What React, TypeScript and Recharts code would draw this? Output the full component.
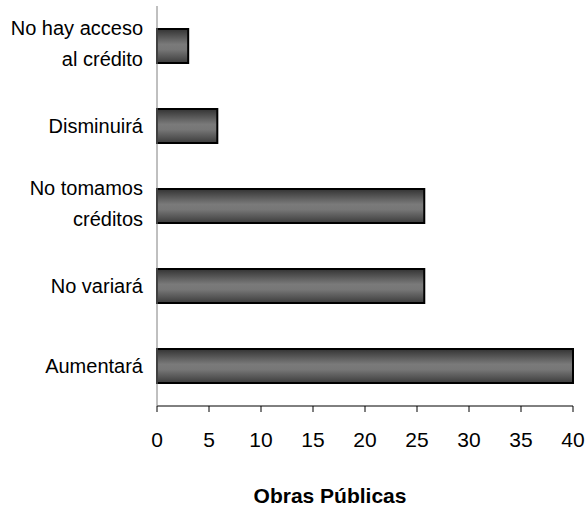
import { BarChart, Bar, XAxis, YAxis } from "recharts";

const categories = ["No hay acceso\nal crédito", "Disminuirá", "No tomamos\ncréditos", "No variará", "Aumentará"];
const values = [3, 5.8, 25.7, 25.7, 40];
const xTicks = [0, 5, 10, 15, 20, 25, 30, 35, 40];
const title = "Obras Públicas";

const FONT = "'Liberation Sans', Arial, sans-serif";

const data = categories.map((name, i) => ({ name, value: values[i] }));

function CategoryTick(props: any) {
  const { x, y, payload } = props;
  const lines = String(payload.value).split("\n");
  const gap = 31;
  // two-line labels sit a little above the bar centre
  const start = y - ((lines.length - 1) * gap) / 2 - (lines.length > 1 ? 2.5 : 0);
  return (
    <text x={x} y={start} textAnchor="end" fontFamily={FONT} fontSize={20} fill="#000">
      {lines.map((line, i) => (
        <tspan key={i} x={x} y={start + i * gap} dy="0.35em">
          {line}
        </tspan>
      ))}
    </text>
  );
}

function TitleLabel(props: any) {
  const { viewBox } = props;
  return (
    <text
      x={330}
      y={viewBox.y + 97}
      textAnchor="middle"
      fontFamily={FONT}
      fontSize={21}
      fontWeight="bold"
      fill="#000"
    >
      {title}
    </text>
  );
}

export default function App() {
  return (
    <div style={{ position: "absolute", left: 0, top: 0, background: "#fff" }}>
      <BarChart
        width={585}
        height={506}
        data={data}
        layout="vertical"
        margin={{ top: 6, right: 12, bottom: 0, left: 0 }}
      >
        <defs>
          <linearGradient id="barShade" x1="0" y1="0" x2="0" y2="1">
            <stop offset="0%" stopColor="#333333" />
            <stop offset="45%" stopColor="#7a7a7a" />
            <stop offset="60%" stopColor="#777777" />
            <stop offset="100%" stopColor="#3c3c3c" />
          </linearGradient>
        </defs>
        <XAxis
          type="number"
          domain={[0, 40]}
          ticks={xTicks}
          interval={0}
          height={100}
          stroke="#000"
          tickSize={6}
          tickMargin={20}
          tick={{ fill: "#000", fontFamily: FONT, fontSize: 21 }}
          label={<TitleLabel />}
        />
        <YAxis
          type="category"
          dataKey="name"
          width={157}
          stroke="#808080"
          tickLine={false}
          tickMargin={8}
          tick={<CategoryTick />}
          interval={0}
        />
        <Bar
          dataKey="value"
          barSize={34}
          fill="url(#barShade)"
          stroke="#000"
          strokeWidth={2}
          isAnimationActive={false}
        />
      </BarChart>
    </div>
  );
}
